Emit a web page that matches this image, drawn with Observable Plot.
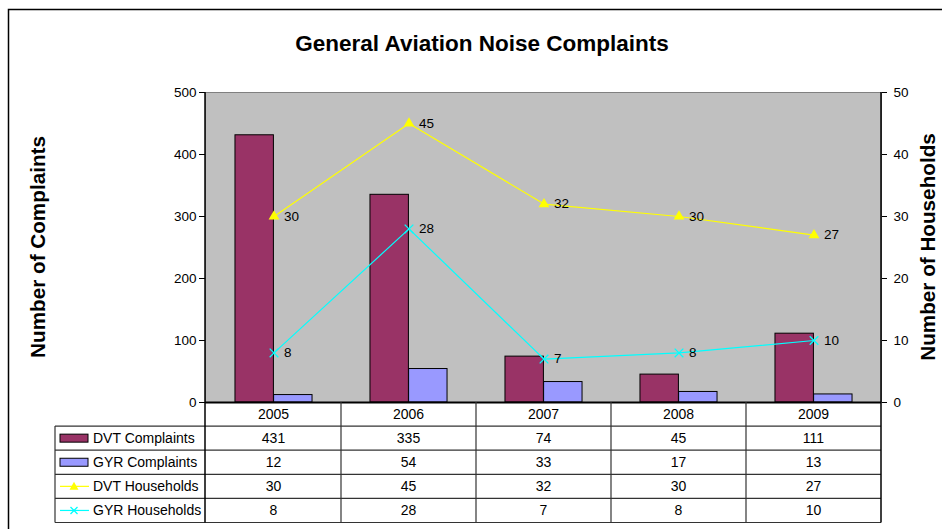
<!DOCTYPE html>
<html>
<head>
<meta charset="utf-8">
<script src="https://cdn.jsdelivr.net/npm/d3@7"></script>
<script src="https://cdn.jsdelivr.net/npm/@observablehq/plot@0.6"></script>
<style>
  body { margin: 0; background: #fff; }
  svg { display: block; }
</style>
</head>
<body>
<div id="chart"></div>
<script>
const years = ["2005", "2006", "2007", "2008", "2009"];
const dvtComplaints = [431, 335, 74, 45, 111];
const gyrComplaints = [12, 54, 33, 17, 13];
const dvtHouseholds = [30, 45, 32, 30, 27];
const gyrHouseholds = [8, 28, 7, 8, 10];
const leftTicks = [0, 100, 200, 300, 400, 500];
const rightTicks = [0, 10, 20, 30, 40, 50];
const seriesNames = ["DVT Complaints", "GYR Complaints", "DVT Households", "GYR Households"];
const title = "General Aviation Noise Complaints";
const leftTitle = "Number of Complaints";
const rightTitle = "Number of Households";

const colors = {
  dvtBar: "#993366", gyrBar: "#9999FF", dvtLine: "#FFFF00", gyrLine: "#00FFFF"
};

const rows = (vals) => years.map((year, i) => ({year, value: vals[i]}));
const dvtC = rows(dvtComplaints), gyrC = rows(gyrComplaints);
const dvtH = rows(dvtHouseholds), gyrH = rows(gyrHouseholds);

const W = 942, H = 529;
const mL = 205, mR = 61, mT = 92, mB = 127;
const bw = (W - mL - mR) / years.length;
const gap = 1.5; // Excel gap width 150%
const barW = bw / (2 + gap);
const outer = barW * gap / 2;
const font = "'Liberation Sans', Arial, sans-serif";

const chart = Plot.plot({
  width: W, height: H,
  marginLeft: mL, marginRight: mR, marginTop: mT, marginBottom: mB,
  style: {fontFamily: font, fontSize: "13.5px", background: "white", color: "black", overflow: "visible"},
  x: {type: "band", domain: years, padding: 0, axis: null},
  y: {domain: [0, 500], axis: null},
  marks: [
    Plot.frame({fill: "#C0C0C0", stroke: "#808080"}),
    Plot.barY(dvtC, {x: "year", y: "value", fill: colors.dvtBar, stroke: "#000", strokeWidth: 1,
      insetLeft: outer, insetRight: outer + barW}),
    Plot.barY(gyrC, {x: "year", y: "value", fill: colors.gyrBar, stroke: "#000", strokeWidth: 1,
      insetLeft: outer + barW, insetRight: outer}),
    Plot.line(dvtH, {x: "year", y: d => d.value * 10, stroke: colors.dvtLine, strokeWidth: 1.2}),
    Plot.dot(dvtH, {x: "year", y: d => d.value * 10, symbol: "triangle", fill: colors.dvtLine, r: 4}),
    Plot.line(gyrH, {x: "year", y: d => d.value * 10, stroke: colors.gyrLine, strokeWidth: 1.2}),
    Plot.dot(gyrH, {x: "year", y: d => d.value * 10, symbol: "times", stroke: colors.gyrLine, strokeWidth: 1.3, r: 4}),
    Plot.text(dvtH, {x: "year", y: d => d.value * 10, text: d => String(d.value), textAnchor: "start", dx: 10, fill: "#000", fontSize: 13.5}),
    Plot.text(gyrH, {x: "year", y: d => d.value * 10, text: d => String(d.value), textAnchor: "start", dx: 10, fill: "#000", fontSize: 13.5}),
    Plot.axisY({ticks: leftTicks, anchor: "left", tickSize: 6, tickPadding: 3, label: null, fontSize: 13.5, stroke: "#000"}),
    Plot.axisY({ticks: rightTicks.map(d => d * 10), tickFormat: d => String(d / 10), anchor: "right", tickSize: 5, tickPadding: 7, label: null, fontSize: 13.5, stroke: "#000"}),
    Plot.ruleY([0], {stroke: "#000", strokeWidth: 2})
  ]
});

document.getElementById("chart").appendChild(chart);

// Data table, titles and outer frame built from the plot's scales
const svg = d3.select(chart);
const xs = chart.scale("x");
const ys = chart.scale("y");
const x0 = xs.range[0], x1 = xs.range[1];
const yBase = ys.apply(0), yTop = ys.apply(500);
const rowH = 24.1;
const labelLeft = 55;
const tableBottom = yBase + rowH * 5;
const g = svg.append("g").attr("font-family", font).attr("font-size", 14).attr("fill", "#000");
const lineColor = "#333";

// horizontal lines
for (let r = 1; r <= 5; r++) {
  const y = yBase + rowH * r;
  g.append("line").attr("x1", labelLeft).attr("x2", x1).attr("y1", y).attr("y2", y)
    .attr("stroke", lineColor).attr("stroke-width", 1.2);
}
// vertical lines
years.forEach((yr, i) => {
  if (i === 0) return;
  const x = xs.apply(yr);
  g.append("line").attr("x1", x).attr("x2", x).attr("y1", yBase).attr("y2", tableBottom)
    .attr("stroke", lineColor).attr("stroke-width", 1.2);
});
g.append("line").attr("x1", labelLeft).attr("x2", labelLeft).attr("y1", yBase + rowH).attr("y2", tableBottom)
  .attr("stroke", lineColor).attr("stroke-width", 1.2);
// axis lines extended through the table
g.append("line").attr("x1", x0).attr("x2", x0).attr("y1", yTop).attr("y2", tableBottom)
  .attr("stroke", "#000").attr("stroke-width", 1.5);
g.append("line").attr("x1", x1).attr("x2", x1).attr("y1", yTop).attr("y2", tableBottom)
  .attr("stroke", "#000").attr("stroke-width", 1.5);

// header years
years.forEach(yr => {
  g.append("text").attr("x", xs.apply(yr) + xs.bandwidth / 2).attr("y", yBase + rowH / 2)
    .attr("text-anchor", "middle").attr("dominant-baseline", "central").text(yr);
});
// rows
const tableVals = [dvtComplaints, gyrComplaints, dvtHouseholds, gyrHouseholds];
tableVals.forEach((vals, r) => {
  const cy = yBase + rowH * (r + 1.5);
  vals.forEach((v, i) => {
    g.append("text").attr("x", xs.apply(years[i]) + xs.bandwidth / 2).attr("y", cy)
      .attr("text-anchor", "middle").attr("dominant-baseline", "central").text(String(v));
  });
  g.append("text").attr("x", 93).attr("y", cy).attr("text-anchor", "start")
    .attr("dominant-baseline", "central").text(seriesNames[r]);
  // legend keys
  if (r === 0 || r === 1) {
    g.append("rect").attr("x", 60).attr("y", cy - 4).attr("width", 28).attr("height", 8)
      .attr("fill", r === 0 ? colors.dvtBar : colors.gyrBar).attr("stroke", "#000").attr("stroke-width", 1);
  } else {
    const c = r === 2 ? colors.dvtLine : colors.gyrLine;
    g.append("line").attr("x1", 60).attr("x2", 89).attr("y1", cy).attr("y2", cy).attr("stroke", c).attr("stroke-width", 1.2);
    if (r === 2) {
      g.append("path").attr("d", `M74,${cy - 4.5}L78.5,${cy + 3.5}L69.5,${cy + 3.5}Z`).attr("fill", c);
    } else {
      g.append("path").attr("d", `M70.5,${cy - 3.5}L77.5,${cy + 3.5}M77.5,${cy - 3.5}L70.5,${cy + 3.5}`).attr("stroke", c).attr("stroke-width", 1.3);
    }
  }
});

// titles
svg.append("text").attr("x", 482).attr("y", 43).attr("text-anchor", "middle").attr("dominant-baseline", "central")
  .attr("font-family", font).attr("font-weight", "bold").attr("font-size", 22.5).attr("fill", "#000").text(title);
const midY = (yTop + yBase) / 2;
svg.append("text").attr("transform", `translate(37,${midY}) rotate(-90)`).attr("text-anchor", "middle").attr("dominant-baseline", "central")
  .attr("font-family", font).attr("font-weight", "bold").attr("font-size", 20.7).attr("fill", "#000").text(leftTitle);
svg.append("text").attr("transform", `translate(927,${midY}) rotate(-90)`).attr("text-anchor", "middle").attr("dominant-baseline", "central")
  .attr("font-family", font).attr("font-weight", "bold").attr("font-size", 20.7).attr("fill", "#000").text(rightTitle);

// outer chart frame
svg.append("path").attr("d", `M8.5,${H}V9.5H${W}`).attr("fill", "none").attr("stroke", "#000").attr("stroke-width", 1.5);
</script>
</body>
</html>
